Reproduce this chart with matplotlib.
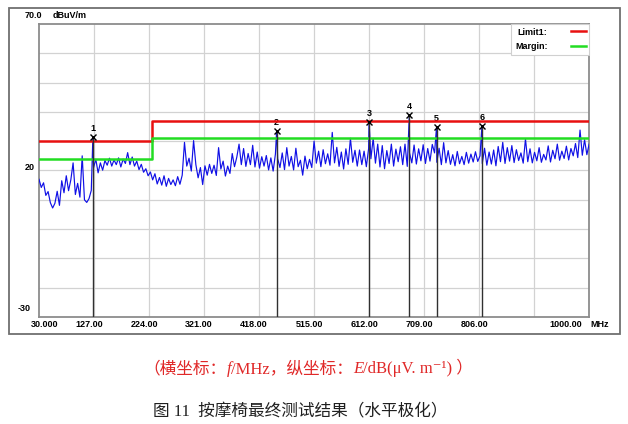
import numpy as np
import matplotlib.pyplot as plt
import matplotlib.transforms as mtransforms
from matplotlib.patches import Rectangle
from matplotlib.offsetbox import TextArea, HPacker, AnchoredOffsetbox

# Measured trace, dBuV/m, one reading every ~4 MHz from 30 to 1000 MHz
trace = [
    17.0, 14.2, 15.8, 11.5, 12.8, 9.0, 7.2, 8.8, 12.9, 8.1,
    16.5, 12.4, 18.2, 13.1, 16.8, 22.6, 11.8, 15.6, 10.9, 25.0,
    10.0, 9.1, 10.4, 13.2, 21.0, 23.8, 19.2, 22.6, 20.1, 23.4,
    21.8, 24.2, 21.5, 23.6, 22.0, 24.3, 21.2, 23.9, 22.4, 26.1,
    22.0, 24.6, 21.5, 23.2, 20.3, 22.1, 19.4, 20.6, 18.2, 19.5,
    16.8, 18.9, 15.4, 17.6, 15.0, 18.2, 14.6, 17.3, 15.2, 16.8,
    14.8, 17.9, 15.3, 18.4, 29.6, 21.5, 24.2, 19.8, 30.2, 22.0,
    17.5, 21.0, 15.2, 21.6, 18.4, 22.1, 19.0, 21.8, 18.3, 27.8,
    20.5, 23.2, 18.1, 21.5, 19.0, 25.8, 21.3, 24.5, 29.0, 22.0,
    27.5, 21.4, 25.8, 22.0, 28.6, 21.2, 26.3, 20.8, 24.7, 21.5,
    25.1, 20.2, 24.3, 19.8, 25.6, 24.0, 21.0, 26.0, 20.3, 27.8,
    21.5, 24.8, 20.2, 27.6, 21.3, 23.5, 18.4, 24.9, 20.6, 23.8,
    21.0, 30.0, 22.5, 26.6, 21.3, 27.1, 22.3, 25.7, 21.8, 33.0,
    22.6, 27.9, 21.4, 26.3, 20.5, 27.4, 22.1, 31.0, 22.8, 26.9,
    21.5, 27.0, 22.0, 26.6, 21.3, 27.5, 24.0, 31.0, 22.5, 29.0,
    21.2, 28.5, 20.6, 26.8, 22.4, 29.0, 21.5, 27.3, 23.0, 28.1,
    22.0, 29.0, 21.4, 26.0, 22.6, 28.7, 22.2, 27.4, 23.3, 28.8,
    22.4, 27.5, 23.2, 28.9, 26.0, 22.8, 27.6, 22.0, 29.5, 22.6,
    26.8, 22.1, 25.4, 21.6, 26.5, 22.3, 24.8, 22.0, 26.2, 22.5,
    25.6, 22.9, 26.4, 23.1, 25.0, 22.4, 27.6, 21.8, 26.3, 22.2,
    27.0, 21.6, 28.2, 23.0, 29.6, 22.4, 27.8, 23.2, 28.5, 22.7,
    27.1, 23.4, 26.0, 22.5, 30.8, 23.0, 27.4, 22.6, 26.2, 23.3,
    27.8, 22.8, 25.5, 23.6, 28.4, 22.9, 26.9, 24.0, 29.0, 23.5,
    26.6, 24.1, 28.3, 23.6, 27.5, 25.0, 29.2, 24.4, 33.8, 25.2,
    30.5, 25.4, 29.0,
]

# limit and margin lines (step at 230 MHz)
limit_f = [30, 230, 230, 1000]
limit_db = [30, 30, 37, 37]
margin_db = [24, 24, 31, 31]

# peak markers
marker_f = [125, 449, 612, 683, 731, 811]
marker_db = [31.5, 33.5, 36.7, 39.0, 35.0, 35.3]
marker_lbl = ['1', '2', '3', '4', '5', '6']

grid_f = [127, 224, 321, 418, 515, 612, 709, 806, 903]
grid_db = [-20, -10, 0, 10, 20, 30, 40, 50, 60]
xlab_f = [30, 127, 224, 321, 418, 515, 612, 709, 806, 1000]
xlab_txt = ['30.000', '127.00', '224.00', '321.00', '418.00', '515.00',
            '612.00', '709.00', '806.00', '1000.00']

fig = plt.figure(figsize=(6.28, 4.24), dpi=100)
ax = fig.add_axes([0.0621, 0.2524, 0.876, 0.691])

# outer instrument frame
fig.patches.append(Rectangle((0.0143, 0.2123), 0.973, 0.769, transform=fig.transFigure,
                             fill=False, ec='#707070', lw=1.3))

freq = np.linspace(30, 1000, len(trace))
f_all = np.concatenate([freq, marker_f])
v_all = np.concatenate([trace, marker_db])
order = np.argsort(f_all)
ax.plot(f_all[order], v_all[order], color='#1010E6', lw=0.85, zorder=3)

lim_line, = ax.plot(limit_f, limit_db, color='#E81010', lw=1.8, zorder=4)
mar_line, = ax.plot(limit_f, margin_db, color='#22DD22', lw=1.8, zorder=4)

# marker lines, crosses and numbers
ax.vlines(marker_f, -30, marker_db, color='#303030', lw=1.0, zorder=5)
ax.plot(marker_f, marker_db, 'x', color='black', ms=4.5, mew=1.0, zorder=6)
for f, v, s in zip(marker_f, marker_db, marker_lbl):
    ax.annotate(s, (f, v), xytext=(0, 2.5), textcoords='offset points', ha='center',
                va='bottom', fontsize=6.5, fontweight='bold', family='Liberation Sans')

ax.set_xlim(30, 1000)
ax.set_ylim(-30, 70)
ax.set_xticks(grid_f)
ax.set_yticks(grid_db)
ax.tick_params(length=0, labelbottom=False, labelleft=False)
ax.grid(color='#d2d2d2', lw=0.9)
ax.set_axisbelow(True)
for sp in ax.spines.values():
    sp.set_color('#8c8c8c')
    sp.set_linewidth(1.3)

lab = dict(fontsize=6.5, fontweight='bold', family='Liberation Sans')
xtrans = ax.get_xaxis_transform()
for f, s in zip(xlab_f, xlab_txt):
    if f == 30:
        ha, dx = 'left', -8
    elif f == 1000:
        ha, dx = 'right', -7
    else:
        ha, dx = 'center', -5
    t = mtransforms.offset_copy(xtrans, fig=fig, x=dx, y=-8, units='dots')
    ax.text(f, 0, s, transform=t, ha=ha, va='center', **lab)
t = mtransforms.offset_copy(xtrans, fig=fig, x=1, y=-8, units='dots')
ax.text(1000, 0, 'MHz', transform=t, ha='left', va='center', **lab)

ytrans = ax.get_yaxis_transform()
ax.text(0, 20, '20', transform=mtransforms.offset_copy(ytrans, fig=fig, x=-4, y=3, units='dots'),
        ha='right', va='center', **lab)
ax.text(0, -30, '-30', transform=mtransforms.offset_copy(ytrans, fig=fig, x=-8, y=8, units='dots'),
        ha='right', va='center', **lab)
ax.text(0, 70, '70.0', transform=mtransforms.offset_copy(ytrans, fig=fig, x=-6, y=8, units='dots'),
        ha='center', va='center', **lab)
ax.text(0, 70, 'dBuV/m', transform=mtransforms.offset_copy(ytrans, fig=fig, x=14, y=8, units='dots'),
        ha='left', va='center', **lab)

leg = ax.legend([lim_line, mar_line], ['Limit1:', 'Margin:'], loc='upper right',
                markerfirst=False, fancybox=False, framealpha=1, edgecolor='#d0d0d0',
                borderaxespad=0, handlelength=1.6, handletextpad=2.6, labelspacing=0.6,
                borderpad=0.4, prop=dict(size=6.5, weight='bold', family='Liberation Sans'))
leg.get_frame().set_linewidth(0.8)

# captions below the chart
latin_cjk = ['Liberation Serif', 'Noto Sans CJK SC', 'DejaVu Sans']
red = '#E02828'
parts = [
    ('（横坐标：', dict(color=red, size=12, family=latin_cjk)),
    ('f', dict(color=red, size=12, family='Liberation Serif', style='italic')),
    ('/MHz，纵坐标：', dict(color=red, size=12, family=latin_cjk)),
    ('E', dict(color=red, size=12, family='Liberation Serif', style='italic')),
    ('/dB(μV. m⁻¹) ）', dict(color=red, size=12, family=latin_cjk)),
]
row = HPacker(children=[TextArea(s, textprops=p) for s, p in parts], align='baseline', pad=0, sep=0)
fig.add_artist(AnchoredOffsetbox(loc='center', child=row, frameon=False, pad=0, borderpad=0,
                                 bbox_to_anchor=(0.491, 0.132), bbox_transform=fig.transFigure))

fig.text(0.478, 0.028, '图 11  按摩椅最终测试结果（水平极化）', ha='center', va='center',
         fontsize=12, family=latin_cjk, color='#202020')

fig.savefig('out.png', dpi=100)
